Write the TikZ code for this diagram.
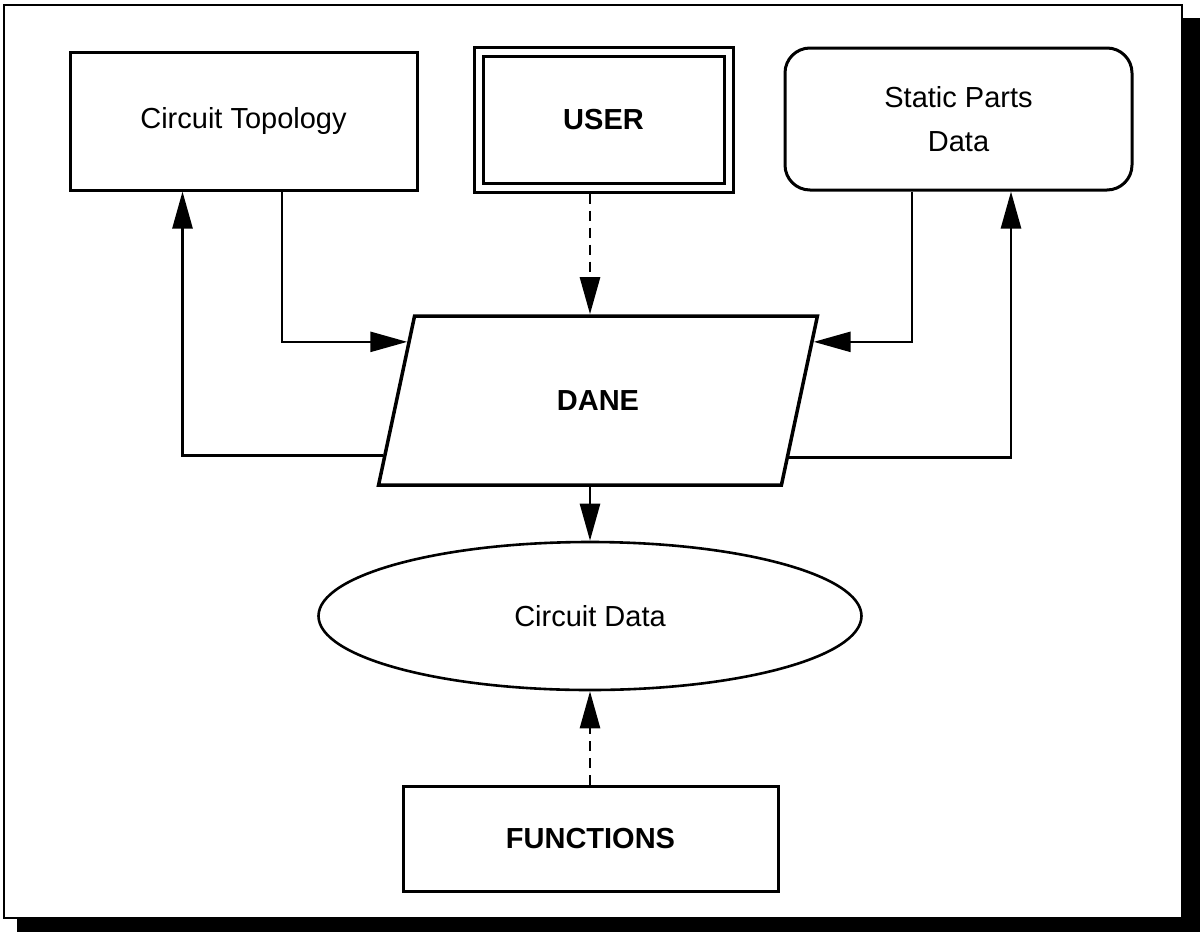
\documentclass[tikz,border=0pt]{standalone}
\usepackage{fontspec}
\setmainfont{Liberation Sans}
\usetikzlibrary{arrows.meta,shapes.geometric,calc}

\tikzset{
  lbl/.style={font=\fontsize{29}{44}\selectfont, align=center, inner sep=0pt},
  boxline/.style={draw, line width=3pt},
  plainbox/.style={lbl, boxline, rectangle, minimum width=347pt, minimum height=138pt},
  link/.style={line width=2.6pt, -{Triangle[length=37pt, width=20pt]}},
  dashlink/.style={link, dash pattern=on 10pt off 7pt},
}

\begin{document}
\begin{tikzpicture}[x=1pt, y=-1pt]
  \useasboundingbox (0,0) rectangle (1202,932);

  % page frame with drop shadow
  \fill[black] (17,18) rectangle (1200,932);
  \filldraw[fill=white, draw=black, line width=2pt] (4,5) rectangle (1182,918);

  % sources
  \node[plainbox] (ct) at (243.5,121) {Circuit Topology};
  \node[lbl, draw, line width=3pt, double, double distance=6pt, outer sep=6pt,
        minimum width=250pt, minimum height=136pt] (user) at (603.5,119.5) {\bfseries USER};
  \node[lbl, boxline, rounded corners=25pt, minimum width=347pt, minimum height=142pt]
        (sp) at (958.5,119) {Static Parts\\Data};

  % central processor
  \node[lbl, draw, line width=3.5pt, trapezium, trapezium left angle=68,
        trapezium right angle=112, trapezium stretches=true,
        minimum width=442pt, minimum height=169pt] (dane) at (598,400.5) {\bfseries DANE};

  % store and functions
  \node[lbl, draw, line width=2.6pt, ellipse, minimum width=543pt, minimum height=148pt]
        (cd) at (590,616) {Circuit Data};
  \node[lbl, boxline, minimum width=375pt, minimum height=105pt] (fn) at (590.5,838.5) {\bfseries FUNCTIONS};

  % points on the slanted sides of DANE
  \coordinate (dinL) at ($(dane.bottom left corner)!0.84!(dane.top left corner)$);
  \coordinate (doutL) at ($(dane.bottom left corner)!0.18!(dane.top left corner)$);
  \coordinate (dinR) at ($(dane.bottom right corner)!0.84!(dane.top right corner)$);
  \coordinate (doutR) at ($(dane.bottom right corner)!0.17!(dane.top right corner)$);

  % connectors
  \draw[link] ([xshift=38.5pt]ct.south) |- (dinL);
  \draw[link] (doutL) -| ([xshift=-61pt]ct.south);
  \draw[link] ([xshift=-46.5pt]sp.south) |- (dinR);
  \draw[link] (doutR) -| ([xshift=52.5pt]sp.south);
  \draw[dashlink] (user.south -| cd.north) -- (dane.north -| cd.north);
  \draw[link] (dane.south -| cd.north) -- (cd.north);
  \draw[dashlink] (fn.north -| cd.south) -- (cd.south);
\end{tikzpicture}
\end{document}
